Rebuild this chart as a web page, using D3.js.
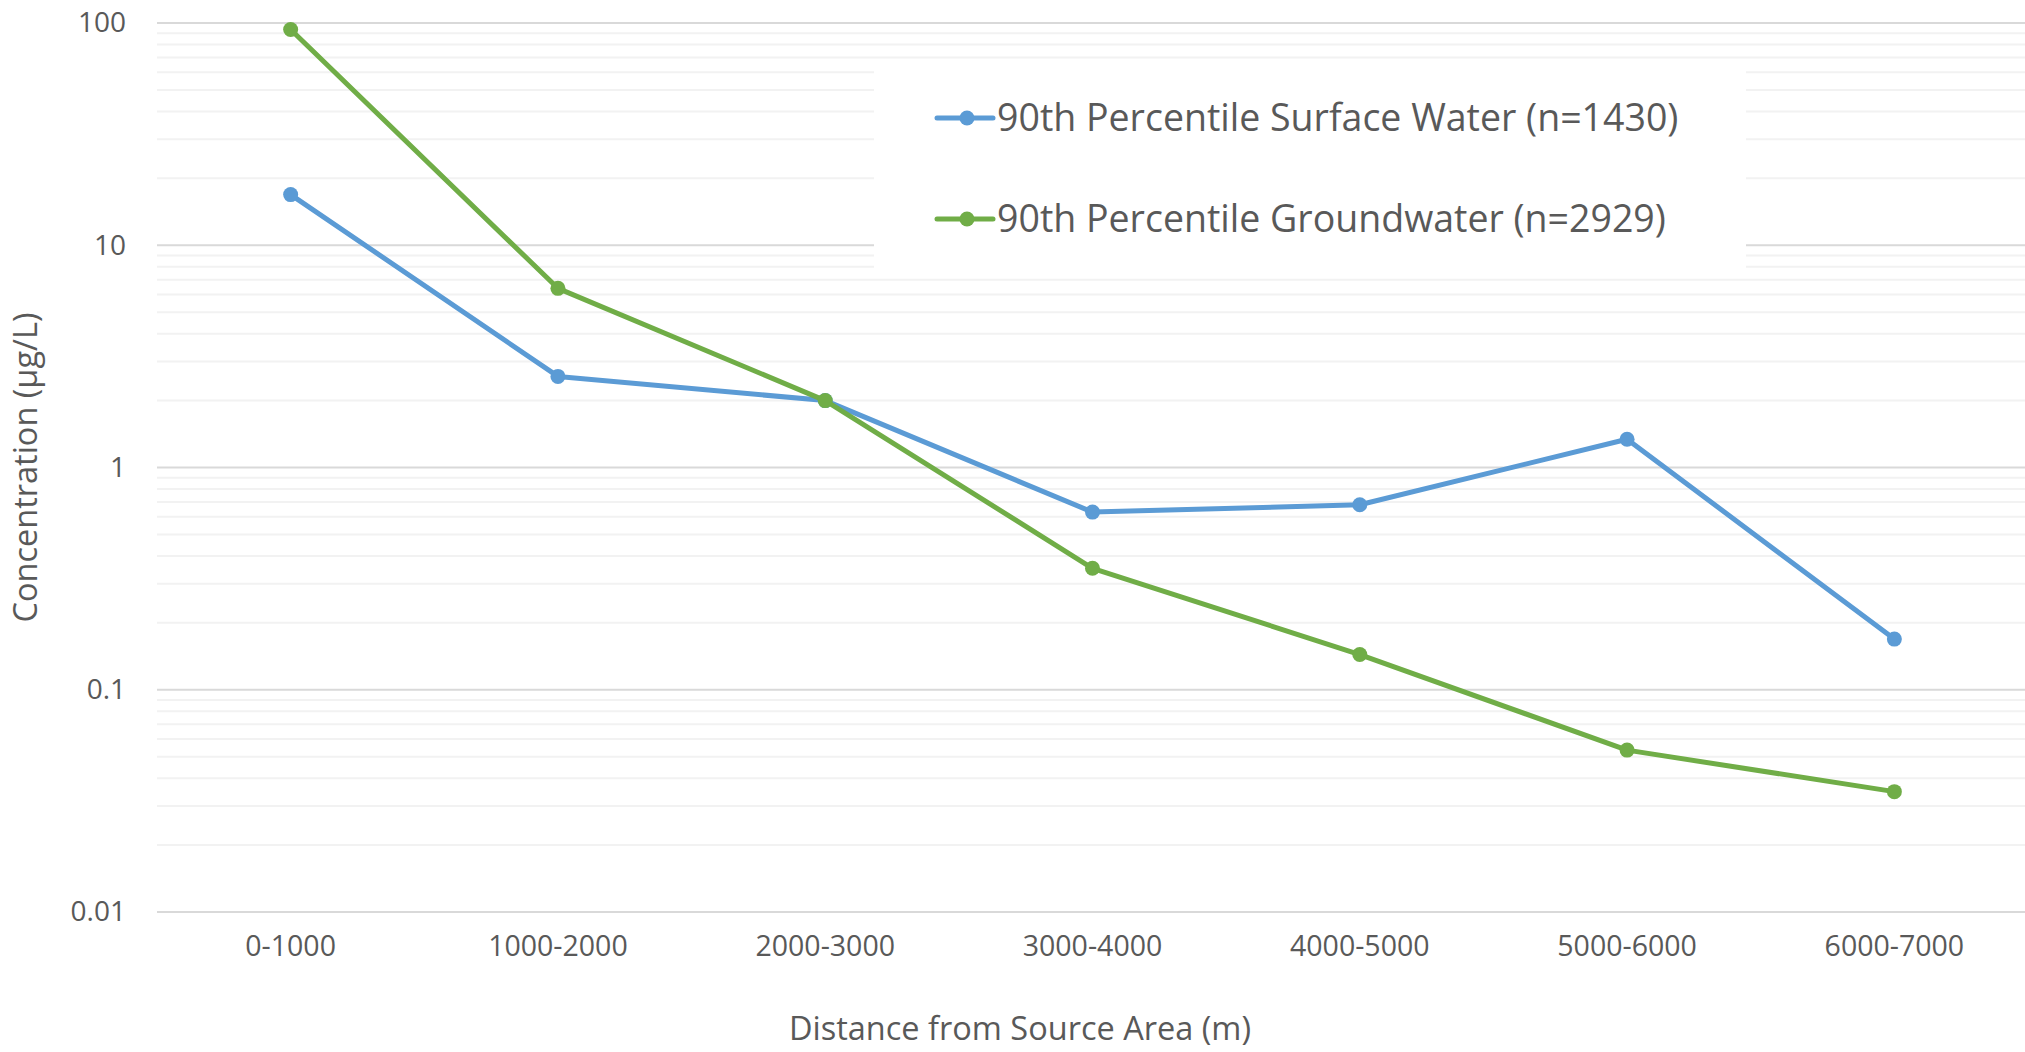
<!DOCTYPE html>
<html>
<head>
<meta charset="utf-8">
<script src="https://cdn.jsdelivr.net/npm/d3@7"></script>
<style>
  body { margin: 0; background: #fff; }
  text { font-family: "Open Sans", "Noto Sans", sans-serif; fill: #595959; }
</style>
</head>
<body>
<div id="chart"></div>
<script>
// Data
const categories = ['0-1000', '1000-2000', '2000-3000', '3000-4000', '4000-5000', '5000-6000', '6000-7000'];
const surfaceWater = [16.9, 2.57, 2.0, 0.63, 0.68, 1.34, 0.169];
const groundwater = [93.5, 6.4, 2.0, 0.352, 0.144, 0.0535, 0.0348];
const yTicks = [0.01, 0.1, 1, 10, 100];
const seriesNames = ['90th Percentile Surface Water (n=1430)', '90th Percentile Groundwater (n=2929)'];
const seriesColors = ['#5B9BD5', '#70AD47'];

const width = 2025;
const height = 1052;
const margin = { top: 23, right: -3, bottom: 140, left: 157 };

const svg = d3.select('#chart')
    .append('svg')
    .attr('width', width)
    .attr('height', height);

svg.append('rect')
    .attr('width', width)
    .attr('height', height)
    .attr('fill', '#fff');

// Scales
const xScale = d3.scaleBand()
    .domain(categories)
    .range([margin.left, width - margin.right]);

const yScale = d3.scaleLog()
    .domain([0.01, 100])
    .range([height - margin.bottom, margin.top]);

// Minor gridlines (2..9 within each decade)
const minor = [];
yTicks.slice(0, -1).forEach(t => {
    for (let k = 2; k <= 9; k++) minor.push(t * k);
});

svg.append('g')
    .selectAll('line')
    .data(minor)
    .join('line')
    .attr('x1', margin.left)
    .attr('x2', width - margin.right)
    .attr('y1', d => yScale(d))
    .attr('y2', d => yScale(d))
    .attr('stroke', '#F2F2F2')
    .attr('stroke-width', 2);

// Major gridlines
svg.append('g')
    .selectAll('line')
    .data(yTicks)
    .join('line')
    .attr('x1', margin.left)
    .attr('x2', width - margin.right)
    .attr('y1', d => yScale(d))
    .attr('y2', d => yScale(d))
    .attr('stroke', '#D9D9D9')
    .attr('stroke-width', 2);

// Y axis labels
svg.append('g')
    .attr('transform', `translate(${margin.left - 31},0)`)
    .call(d3.axisLeft(yScale).tickValues(yTicks).tickFormat(d3.format('~g')).tickSize(0).tickPadding(0))
    .call(g => g.select('.domain').remove())
    .selectAll('text')
    .attr('font-size', '28px')
    .attr('fill', '#595959');

// X axis labels
svg.append('g')
    .attr('transform', `translate(0,${yScale(0.01)})`)
    .call(d3.axisBottom(xScale).tickSize(0).tickPadding(24))
    .call(g => g.select('.domain').remove())
    .selectAll('text')
    .attr('font-size', '28.5px')
    .attr('fill', '#595959');

// Axis titles
svg.append('text')
    .attr('x', 1020)
    .attr('y', 1029)
    .attr('dy', '0.35em')
    .attr('text-anchor', 'middle')
    .attr('font-size', '32.5px')
    .text('Distance from Source Area (m)');

svg.append('text')
    .attr('transform', `translate(26,${yScale(1)}) rotate(-90)`)
    .attr('dy', '0.35em')
    .attr('text-anchor', 'middle')
    .attr('font-size', '32.5px')
    .text('Concentration (µg/L)');

// Legend background
svg.append('rect')
    .attr('x', 874)
    .attr('y', 60)
    .attr('width', 872)
    .attr('height', 212)
    .attr('fill', '#fff');

// Lines
const line = d3.line()
    .x((d, i) => xScale(categories[i]) + xScale.bandwidth() / 2)
    .y(d => yScale(d));

[surfaceWater, groundwater].forEach((series, si) => {
    svg.append('path')
        .datum(series)
        .attr('fill', 'none')
        .attr('stroke', seriesColors[si])
        .attr('stroke-width', 5)
        .attr('stroke-linejoin', 'round')
        .attr('d', line);

    svg.append('g')
        .selectAll('circle')
        .data(series)
        .join('circle')
        .attr('cx', (d, i) => xScale(categories[i]) + xScale.bandwidth() / 2)
        .attr('cy', d => yScale(d))
        .attr('r', 7.5)
        .attr('fill', seriesColors[si]);
});

// Legend
const legend = svg.append('g')
    .selectAll('g')
    .data(seriesNames)
    .join('g')
    .attr('transform', (d, i) => `translate(937,${118 + i * 101})`);

legend.append('line')
    .attr('x1', 0)
    .attr('x2', 56)
    .attr('stroke', (d, i) => seriesColors[i])
    .attr('stroke-width', 5)
    .attr('stroke-linecap', 'round');

legend.append('circle')
    .attr('cx', 30)
    .attr('r', 7.5)
    .attr('fill', (d, i) => seriesColors[i]);

legend.append('text')
    .attr('x', 60)
    .attr('dy', '0.35em')
    .attr('font-size', '37.5px')
    .text(d => d);
</script>
</body>
</html>
